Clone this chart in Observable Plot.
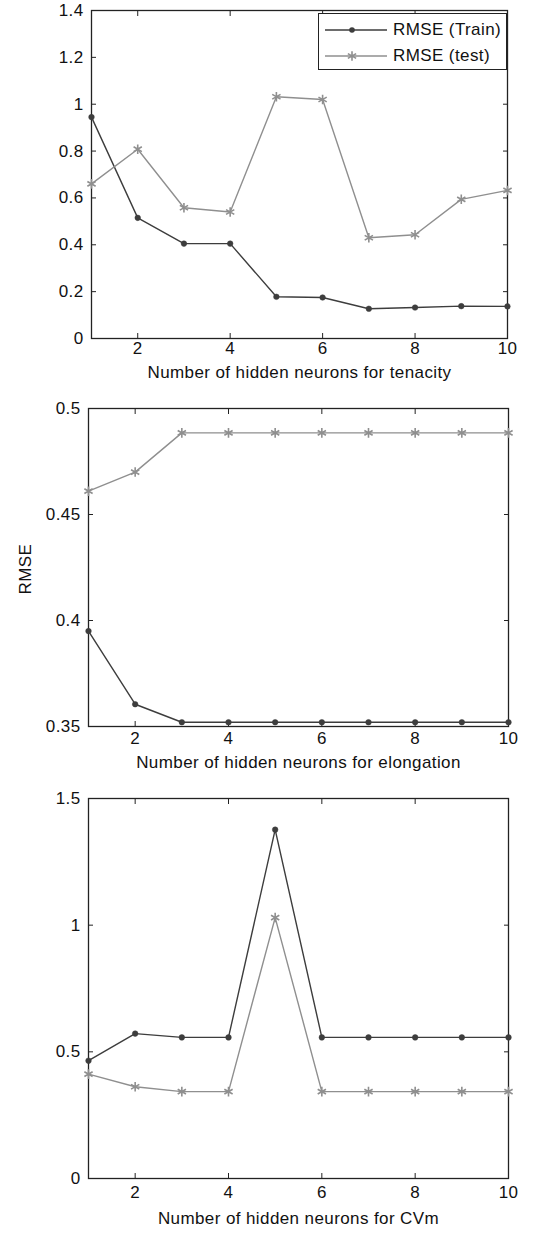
<!DOCTYPE html>
<html>
<head>
<meta charset="utf-8">
<script src="https://cdn.jsdelivr.net/npm/d3@7"></script>
<script src="https://cdn.jsdelivr.net/npm/@observablehq/plot@0.6"></script>
<style>
  html, body { margin: 0; padding: 0; background: #fff; }
  #wrap { position: relative; width: 537px; height: 1234px; overflow: hidden; font-family: "Liberation Sans", Arial, sans-serif; }
  #wrap svg { display: block; }
  .legend { position: absolute; left: 318px; top: 13px; width: 189px; height: 57px; border: 1.2px solid #222; background: #fff; box-sizing: border-box; }
  .legend .row { position: absolute; left: 0; height: 20px; display: flex; align-items: center; }
  .legend .row span { font-size: 17px; letter-spacing: 0.4px; color: #111; margin-left: 4px; }
</style>
</head>
<body>
<div id="wrap">
  <div id="p1"></div>
  <div id="p2"></div>
  <div id="p3"></div>
</div>
<script>
// ---- data ----
const neurons = [1, 2, 3, 4, 5, 6, 7, 8, 9, 10];
const xTicks = [2, 4, 6, 8, 10];

const tenacityTrain = [0.945, 0.515, 0.405, 0.405, 0.178, 0.175, 0.127, 0.132, 0.138, 0.137];
const tenacityTest  = [0.660, 0.808, 0.558, 0.540, 1.032, 1.020, 0.430, 0.443, 0.594, 0.632];
const tenacityYTicks = [0, 0.2, 0.4, 0.6, 0.8, 1, 1.2, 1.4];

const elongationTrain = [0.395, 0.3605, 0.352, 0.352, 0.352, 0.352, 0.352, 0.352, 0.352, 0.352];
const elongationTest  = [0.461, 0.470, 0.4885, 0.4885, 0.4885, 0.4885, 0.4885, 0.4885, 0.4885, 0.4885];
const elongationYTicks = [0.35, 0.4, 0.45, 0.5];

const cvmTrain = [0.465, 0.572, 0.557, 0.557, 1.377, 0.557, 0.557, 0.557, 0.557, 0.557];
const cvmTest  = [0.412, 0.362, 0.343, 0.343, 1.030, 0.343, 0.343, 0.343, 0.343, 0.343];
const cvmYTicks = [0, 0.5, 1, 1.5];

const seriesNames = ["RMSE (Train)", "RMSE (test)"];
const xTitles = ["Number of hidden neurons for tenacity", "Number of hidden neurons for elongation", "Number of hidden neurons for CVm"];
const yTitle = "RMSE";

// ---- styles ----
const trainColor = "#3d3d3d";
const testColor = "#8f8f8f";
const frameColor = "#222";
const font = "Liberation Sans, Arial, sans-serif";

function rows(values) { return neurons.map((n, i) => ({n, v: values[i]})); }

function panel({train, test, yDomain, yTicks, title, height, mTop, mBottom, mLeft, mRight, tickDy, titleDy, extra = []}) {
  const tr = rows(train), te = rows(test);
  return Plot.plot({
    width: 537, height,
    marginTop: mTop, marginBottom: mBottom, marginLeft: mLeft, marginRight: mRight,
    style: {fontFamily: font, fontSize: "17px", letterSpacing: "0.4px", color: "#111", background: "#fff"},
    x: {domain: [1, 10]},
    y: {domain: yDomain},
    marks: [
      // inward ticks on all four sides
      Plot.axisX({anchor: "bottom", ticks: xTicks, tickSize: 5, dy: -5, fill: "none", label: null, stroke: frameColor}),
      Plot.axisX({anchor: "top", ticks: xTicks, tickSize: 5, dy: 5, fill: "none", label: null, stroke: frameColor}),
      Plot.axisY({anchor: "left", ticks: yTicks, tickSize: 5, dx: 5, fill: "none", label: null, stroke: frameColor}),
      Plot.axisY({anchor: "right", ticks: yTicks, tickSize: 5, dx: -5, fill: "none", label: null, stroke: frameColor}),
      // tick labels
      Plot.text(xTicks, {x: d => d, frameAnchor: "bottom", dy: tickDy, text: d => String(d), fill: "#111"}),
      Plot.text(yTicks, {y: d => d, frameAnchor: "left", dx: -8, textAnchor: "end", text: d => String(d), fill: "#111"}),
      // axis title
      Plot.text([title], {frameAnchor: "bottom", dy: titleDy, text: d => d, fill: "#111"}),
      Plot.frame({stroke: frameColor, strokeWidth: 1.3}),
      // series
      Plot.line(tr, {x: "n", y: "v", stroke: trainColor, strokeWidth: 1.4}),
      Plot.dot(tr, {x: "n", y: "v", r: 2.8, fill: trainColor, stroke: trainColor, strokeWidth: 0.5}),
      Plot.line(te, {x: "n", y: "v", stroke: testColor, strokeWidth: 1.4}),
      Plot.dot(te, {x: "n", y: "v", symbol: "asterisk", r: 4.5, stroke: testColor, strokeWidth: 1.6}),
      ...extra
    ]
  });
}

document.getElementById("p1").append(panel({
  train: tenacityTrain, test: tenacityTest, yDomain: [0, 1.4], yTicks: tenacityYTicks, title: xTitles[0],
  height: 390, mTop: 10, mBottom: 52, mLeft: 91, mRight: 30, tickDy: 15, titleDy: 39
}));

document.getElementById("p2").append(panel({
  train: elongationTrain, test: elongationTest, yDomain: [0.35, 0.5], yTicks: elongationYTicks, title: xTitles[1],
  height: 390, mTop: 18, mBottom: 54, mLeft: 88, mRight: 29, tickDy: 17, titleDy: 41,
  extra: [Plot.text([yTitle], {frameAnchor: "left", dx: -63, dy: 27, rotate: -90, text: d => d, fill: "#111"})]
}));

document.getElementById("p3").append(panel({
  train: cvmTrain, test: cvmTest, yDomain: [0, 1.5], yTicks: cvmYTicks, title: xTitles[2],
  height: 454, mTop: 18, mBottom: 56, mLeft: 88, mRight: 29, tickDy: 19, titleDy: 45
}));

// ---- legend (top panel) ----
const legend = document.createElement("div");
legend.className = "legend";
const symbols = [
  `<circle cx="33" cy="10" r="2.8" fill="${trainColor}"/>`,
  `<path d="${d3.symbol(d3.symbolAsterisk, 64)()}" transform="translate(33,10)" fill="none" stroke="${testColor}" stroke-width="1.6"/>`
];
const colors = [trainColor, testColor];
seriesNames.forEach((name, i) => {
  const row = document.createElement("div");
  row.className = "row";
  row.style.top = (6 + i * 26) + "px";
  row.innerHTML = `<svg width="70" height="20" style="display:block"><line x1="6" y1="10" x2="68" y2="10" stroke="${colors[i]}" stroke-width="1.4"/>${symbols[i]}</svg><span>${name}</span>`;
  legend.append(row);
});
document.getElementById("wrap").append(legend);
</script>
</body>
</html>
